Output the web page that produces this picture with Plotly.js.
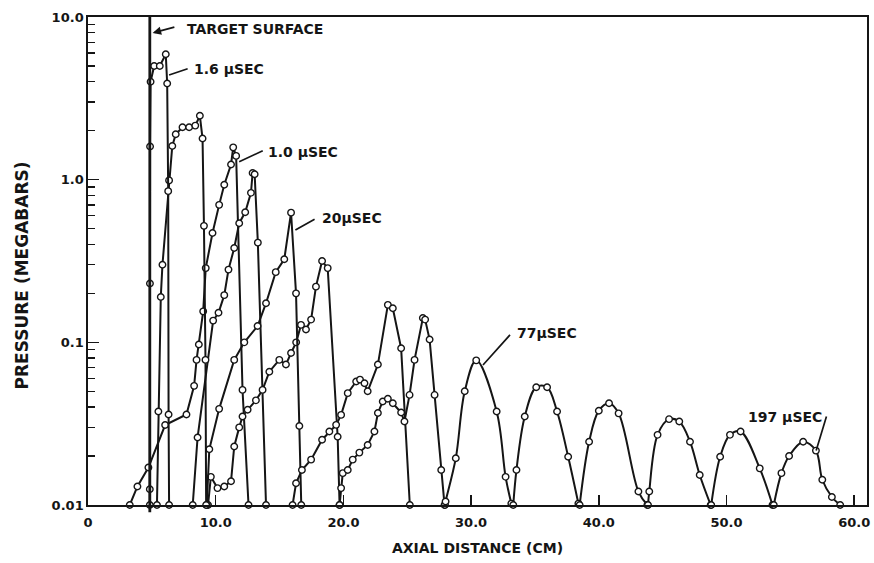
<!DOCTYPE html>
<html>
<head>
<meta charset="utf-8">
<script src="https://cdn.plot.ly/plotly-3.0.1.min.js"></script>
<style>
  html, body { margin: 0; padding: 0; background: #ffffff; }
  #chart { width: 874px; height: 563px; }
</style>
</head>
<body>
<div id="chart"></div>
<script>
// Axial pressure profiles behind the target surface.
// x = axial distance (cm), p = pressure (megabars)

const targetSurfaceX = 4.84;

// 1.6 microsecond profile
const xA = [4.84, 4.84, 4.85, 4.86, 4.90, 5.18, 5.62, 6.09, 6.20, 6.28, 6.31, 6.35];
const pA = [0.010, 0.0125, 0.23, 1.6, 4.0, 5.0, 5.0, 5.9, 3.9, 0.85, 0.036, 0.010];

const xB = [5.40, 5.51, 5.70, 5.83, 6.35, 6.60, 6.87, 7.40, 7.92, 8.40, 8.76, 8.97, 9.08, 9.20, 9.25];
const pB = [0.010, 0.0376, 0.19, 0.30, 0.99, 1.61, 1.90, 2.10, 2.10, 2.15, 2.47, 1.79, 0.52, 0.078, 0.010];

// 1.0 microsecond profile
const xC = [3.27, 3.87, 4.73, 6.04, 7.71, 8.31, 8.50, 8.68, 9.02, 9.22, 9.75, 10.27, 10.67, 11.20, 11.37, 11.60, 12.10, 12.57];
const pC = [0.010, 0.013, 0.017, 0.031, 0.036, 0.054, 0.078, 0.097, 0.155, 0.286, 0.47, 0.70, 0.93, 1.24, 1.58, 1.40, 0.051, 0.010];

const xD = [8.20, 8.58, 9.80, 10.22, 10.67, 11.00, 11.45, 11.84, 12.31, 12.76, 12.89, 13.05, 13.30, 13.94];
const pD = [0.010, 0.026, 0.136, 0.152, 0.195, 0.28, 0.38, 0.54, 0.63, 0.83, 1.10, 1.08, 0.41, 0.010];

// 20 microsecond profile
const xP = [9.30, 9.50, 10.27, 11.45, 12.24, 13.28, 13.94, 14.70, 15.37, 15.90, 16.29, 16.55, 16.70];
const pP = [0.010, 0.022, 0.039, 0.078, 0.100, 0.126, 0.174, 0.27, 0.324, 0.627, 0.20, 0.0306, 0.010];

const xE = [9.40, 9.62, 10.14, 10.67, 11.20, 11.45, 11.84, 12.10, 12.50, 13.15, 13.67, 14.20, 14.98, 15.50, 15.90, 16.30, 16.68, 17.07, 17.47, 17.85, 18.33, 18.77, 19.55, 19.70];
const pE = [0.010, 0.0149, 0.0127, 0.013, 0.014, 0.0229, 0.030, 0.035, 0.0385, 0.044, 0.051, 0.066, 0.078, 0.073, 0.086, 0.100, 0.128, 0.120, 0.138, 0.22, 0.316, 0.286, 0.0263, 0.010];

const xF = [16.02, 16.29, 16.75, 17.47, 18.33, 18.90, 19.43, 19.82, 20.34, 21.00, 21.30, 21.65, 21.90, 22.70, 23.48, 23.87, 24.52, 25.20];
const pF = [0.010, 0.0136, 0.0164, 0.019, 0.0252, 0.0283, 0.0311, 0.0358, 0.0487, 0.0575, 0.059, 0.056, 0.050, 0.073, 0.170, 0.162, 0.092, 0.010];

const xG = [19.70, 19.82, 19.95, 20.34, 20.73, 21.25, 21.90, 22.43, 22.70, 23.08, 23.48, 23.87, 24.52, 24.78, 25.18, 25.57, 26.22, 26.40, 26.75, 27.14, 27.66, 27.92];
const pG = [0.010, 0.0127, 0.0157, 0.0164, 0.019, 0.021, 0.0234, 0.0283, 0.0368, 0.0433, 0.045, 0.0422, 0.037, 0.0326, 0.0475, 0.078, 0.141, 0.138, 0.104, 0.0475, 0.0164, 0.010];

// 77 microsecond profile
const xH = [27.95, 28.00, 28.80, 29.50, 30.40, 32.00, 32.70, 33.15];
const pH = [0.010, 0.0105, 0.0194, 0.050, 0.0775, 0.0376, 0.0149, 0.0102];

const xI = [33.30, 33.55, 34.20, 35.10, 35.95, 36.73, 37.60, 38.40];
const pI = [0.010, 0.0164, 0.035, 0.053, 0.053, 0.0376, 0.0198, 0.0102];

const xJ = [38.50, 39.24, 40.00, 40.80, 41.55, 43.10, 43.80];
const pJ = [0.010, 0.0245, 0.038, 0.0422, 0.0366, 0.0121, 0.010];

const xK = [43.85, 43.95, 44.60, 45.50, 46.30, 47.14, 47.90, 48.76];
const pK = [0.010, 0.0121, 0.027, 0.0337, 0.0326, 0.0245, 0.0153, 0.010];

const xL = [48.80, 49.50, 50.27, 51.10, 52.60, 53.60];
const pL = [0.010, 0.0198, 0.027, 0.0283, 0.0168, 0.010];

// 197 microsecond profile
const xM = [53.70, 54.30, 54.90, 56.00, 57.00, 57.50, 58.25, 58.90];
const pM = [0.010, 0.0157, 0.020, 0.0245, 0.0216, 0.0143, 0.0112, 0.010];

// Axis ticks
const xTickVals = [0, 10, 20, 30, 40, 50, 60];
const xTickText = ['0', '10.0', '20.0', '30.0', '40.0', '50.0', '60.0'];
const yTickVals = [0.01, 0.1, 1, 10];
const yTickText = ['0.01', '0.1', '1.0', '10.0'];
const yMinorMultipliers = [2, 3, 4, 5, 6, 7, 8, 9];

const INK = '#151515';
const FONT = 'DejaVu Sans';

function profile(x, y, shape) {
  return {
    type: 'scatter',
    mode: 'lines+markers',
    x: x,
    y: y,
    line: { color: INK, width: 2, shape: shape, smoothing: 1 },
    marker: { symbol: 'circle', size: 6.5, color: '#ffffff', line: { color: INK, width: 1.4 } },
    cliponaxis: false,
    hoverinfo: 'skip',
    showlegend: false
  };
}

const traces = [
  profile(xC, pC, 'linear'),
  profile(xD, pD, 'linear'),
  profile(xE, pE, 'linear'),
  profile(xP, pP, 'linear'),
  profile(xB, pB, 'linear'),
  profile(xA, pA, 'linear'),
  profile(xF, pF, 'linear'),
  profile(xG, pG, 'linear'),
  profile(xH, pH, 'spline'),
  profile(xI, pI, 'spline'),
  profile(xJ, pJ, 'spline'),
  profile(xK, pK, 'spline'),
  profile(xL, pL, 'spline'),
  profile(xM, pM, 'spline')
];

const yMinor = [];
[0.01, 0.1, 1].forEach(d => yMinorMultipliers.forEach(m => yMinor.push(d * m)));

const labelFont = { family: FONT, size: 14, color: INK, weight: 'bold' };
const L = Math.log10;

// Curve labels with their leader lines (y positions in log10 units)
function leader(x, y, ax, ay, head) {
  return {
    x: x, y: L(y), xref: 'x', yref: 'y',
    ax: ax, ay: L(ay), axref: 'x', ayref: 'y',
    text: '', showarrow: true,
    arrowhead: head ? 2 : 0, arrowsize: 1, arrowwidth: 1.7, arrowcolor: INK
  };
}
function label(text, x, y) {
  return {
    x: x, y: L(y), xref: 'x', yref: 'y',
    text: text, showarrow: false, xanchor: 'left', yanchor: 'middle',
    font: labelFont
  };
}

const annotations = [
  leader(5.06, 7.98, 6.88, 8.71, true),
  label('TARGET SURFACE', 7.6, 8.43),
  leader(6.35, 4.40, 7.92, 4.84, false),
  label('1.6 μSEC', 8.16, 4.79),
  leader(11.84, 1.29, 13.80, 1.52, false),
  label('1.0 μSEC', 13.96, 1.48),
  leader(16.24, 0.491, 17.86, 0.578, false),
  label('20μSEC', 18.2, 0.581),
  leader(30.93, 0.0726, 33.15, 0.1135, false),
  label('77μSEC', 33.41, 0.114),
  leader(57.02, 0.0216, 57.86, 0.0357, false),
  label('197 μSEC', 51.53, 0.0348),
  {
    x: -0.085, y: 0.47, xref: 'paper', yref: 'paper',
    text: 'PRESSURE (MEGABARS)', textangle: -90, showarrow: false,
    xanchor: 'center', yanchor: 'middle',
    font: { family: FONT, size: 17, color: INK, weight: 'bold' }
  }
];

const layout = {
  width: 874,
  height: 563,
  margin: { l: 88, r: 7, t: 17, b: 58 },
  paper_bgcolor: '#ffffff',
  plot_bgcolor: '#ffffff',
  font: { family: FONT, color: INK },
  showlegend: false,
  xaxis: {
    range: [0, 61],
    tickvals: xTickVals,
    ticktext: xTickText,
    ticks: 'inside',
    ticklen: 10,
    tickwidth: 1.5,
    tickcolor: INK,
    ticklabelstandoff: 5,
    showline: true,
    linewidth: 1.7,
    linecolor: INK,
    mirror: true,
    showgrid: false,
    zeroline: false,
    tickfont: { family: FONT, size: 13, color: INK, weight: 'bold' },
    title: { text: 'AXIAL DISTANCE (CM)', font: { family: FONT, size: 14, color: INK, weight: 'bold' }, standoff: 14 }
  },
  yaxis: {
    type: 'log',
    range: [-2, 1],
    tickvals: yTickVals,
    ticktext: yTickText,
    ticks: 'inside',
    ticklen: 11,
    tickwidth: 1.5,
    tickcolor: INK,
    minor: { tickvals: yMinor, ticks: 'inside', ticklen: 7, tickwidth: 1.4, tickcolor: INK, showgrid: false },
    showline: true,
    linewidth: 1.7,
    linecolor: INK,
    mirror: true,
    showgrid: false,
    zeroline: false,
    tickfont: { family: FONT, size: 13, color: INK, weight: 'bold' }
  },
  shapes: [
    {
      type: 'line', xref: 'x', yref: 'paper',
      x0: targetSurfaceX, x1: targetSurfaceX, y0: -0.015, y1: 1.0,
      line: { color: INK, width: 2.8 }
    }
  ],
  annotations: annotations
};

Plotly.newPlot('chart', traces, layout, { staticPlot: true, displayModeBar: false });
</script>
</body>
</html>
